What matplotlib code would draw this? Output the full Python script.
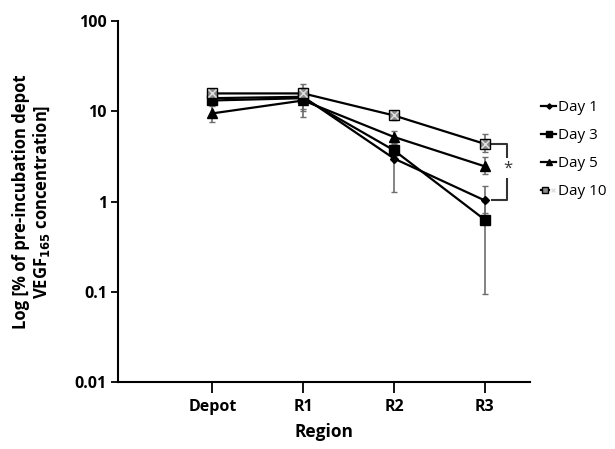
import matplotlib
matplotlib.use("Agg")
import matplotlib.pyplot as plt
import numpy as np
from matplotlib.legend_handler import HandlerTuple
from matplotlib.ticker import NullLocator

plt.rcParams["font.family"] = ["Open Sans", "DejaVu Sans"]

regions = ["Depot", "R1", "R2", "R3"]

# mean values (% of pre-incubation depot concentration)
day1 = [14.0, 14.5, 3.0, 1.03]
day3 = [13.2, 14.0, 3.7, 0.63]
day5 = [9.5, 13.2, 5.2, 2.46]
day10 = [15.8, 15.8, 9.0, 4.36]

# error bar ends (lower, upper)
day1_lo = [13.0, 10.5, 1.27, 0.75]
day1_hi = [15.0, 18.0, 3.6, 1.48]
day3_lo = [12.3, 10.0, 3.2, 0.095]
day3_hi = [14.2, 17.5, 4.3, 1.0]
day5_lo = [7.6, 8.7, 4.5, 2.0]
day5_hi = [11.5, 17.0, 6.1, 3.1]
day10_lo = [14.5, 13.0, 8.0, 3.5]
day10_hi = [17.0, 20.0, 10.0, 5.6]

fig = plt.figure(figsize=(6.15, 4.49), dpi=100)
ax = fig.add_axes([0.192, 0.149, 0.670, 0.804])

x = np.arange(len(regions))
series = [
    ("Day 1", day1, day1_lo, day1_hi, dict(marker="D", ms=4.5, mfc="black", mec="black")),
    ("Day 3", day3, day3_lo, day3_hi, dict(marker="s", ms=7, mfc="black", mec="black")),
    ("Day 5", day5, day5_lo, day5_hi, dict(marker="^", ms=6.5, mfc="black", mec="black")),
    ("Day 10", day10, day10_lo, day10_hi, dict(marker="s", ms=7.5, mfc="#8c8c8c", mec="black", mew=1.0)),
]

handles = []
for name, vals, lo, hi, style in series:
    vals = np.array(vals)
    yerr = [vals - np.array(lo), np.array(hi) - vals]
    ax.errorbar(x, vals, yerr=yerr, fmt="none", ecolor="#6e6e6e",
                elinewidth=1.2, capsize=2.5, capthick=1.0, zorder=1)
    (ln,) = ax.plot(x, vals, color="black", lw=1.6, zorder=3, **style)
    if name == "Day 10":
        (xm,) = ax.plot(x, vals, ls="none", marker="x", ms=5.5, mec="#e0e0e0",
                        mew=1.0, zorder=4)
        handles.append((ln, xm))
    else:
        handles.append(ln)

# significance bracket between Day 10 and Day 1 at R3
xb0, xb1 = x[-1] + 0.08, x[-1] + 0.25
top, bot = day10[-1], day1[-1]
ax.plot([xb0, xb1, xb1, xb0], [top, top, bot, bot], color="#333333", lw=1.5,
        zorder=2, clip_on=False)
ax.text(xb1, np.sqrt(top * bot) * 1.1, "*", ha="center", va="center", fontsize=12,
        color="#333333", zorder=5,
        bbox=dict(facecolor="white", edgecolor="none", pad=1.5))

ax.set_yscale("log")
ax.set_ylim(0.01, 100)
ax.set_yticks([0.01, 0.1, 1, 10, 100])
ax.set_yticklabels(["0.01", "0.1", "1", "10", "100"], fontweight="bold")
ax.yaxis.set_minor_locator(NullLocator())
ax.set_xlim(-1.04, 3.5)
ax.set_xticks(x)
ax.set_xticklabels(regions, fontweight="bold")

ax.tick_params(axis="y", direction="out", length=5, width=1.3, pad=3, labelsize=11.5)
ax.tick_params(axis="x", direction="out", length=8, width=1.3, pad=4, labelsize=11.5)
ax.spines["top"].set_visible(False)
ax.spines["right"].set_visible(False)
ax.spines["left"].set_linewidth(1.5)
ax.spines["bottom"].set_linewidth(1.5)

ax.set_xlabel("Region", fontsize=12.5, fontweight="bold", labelpad=6)
ax.set_ylabel("Log [% of pre-incubation depot\nVEGF$_{\\mathbf{165}}$ concentration]",
              fontsize=12, fontweight="bold", labelpad=16, linespacing=1.15)

fig.legend(handles, [s[0] for s in series], loc="upper left",
           bbox_to_anchor=(0.875, 0.783), frameon=False, fontsize=11,
           handlelength=1.0, handletextpad=0.1, labelspacing=0.85, markerscale=0.6,
           borderaxespad=0, borderpad=0.2,
           handler_map={tuple: HandlerTuple(ndivide=None, pad=0)})

fig.savefig("out.png", dpi=100)
